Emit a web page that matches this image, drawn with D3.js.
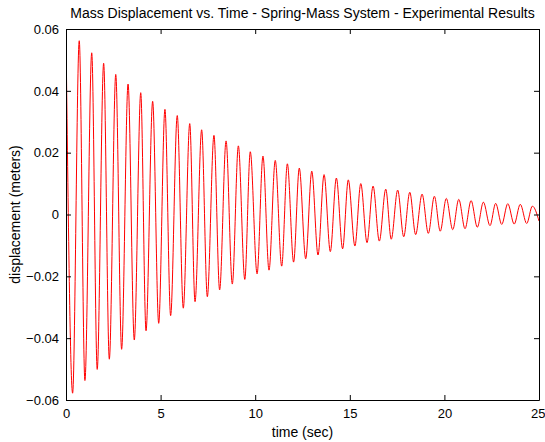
<!DOCTYPE html>
<html>
<head>
<meta charset="utf-8">
<script src="https://cdn.jsdelivr.net/npm/d3@7"></script>
<style>
  body { margin: 0; background: #fff; }
  text { font-family: "Liberation Sans", Arial, sans-serif; fill: #000; }
</style>
</head>
<body>
<div id="chart"></div>
<script>
// peaks and troughs (time in sec, displacement in m)
var startTime = 0, startDisp = 0.058;
var peakTimes = [0.70, 1.36, 1.99, 2.63, 3.28, 3.95, 4.58, 5.23, 5.88, 6.54, 7.17, 7.82,
  8.46, 9.11, 9.74, 10.41, 11.06, 11.70, 12.33, 12.99, 13.64, 14.29, 14.92, 15.58, 16.23,
  16.90, 17.53, 18.17, 18.82, 19.47, 20.10, 20.76, 21.41, 22.06, 22.71, 23.35, 24.01, 24.65];
var peakDisp = [0.0562, 0.0523, 0.0489, 0.0453, 0.0422, 0.0394, 0.0366, 0.0340, 0.0320, 0.0294, 0.0274, 0.0256,
  0.0238, 0.0222, 0.0203, 0.0189, 0.0175, 0.0164, 0.0150, 0.0140, 0.0129, 0.0118, 0.0112, 0.0100, 0.0092,
  0.0082, 0.0079, 0.0072, 0.0066, 0.0059, 0.0052, 0.0049, 0.0045, 0.0040, 0.0036, 0.0035, 0.0033, 0.0027];
var troughTimes = [0.35, 1.00, 1.65, 2.29, 2.94, 3.61, 4.23, 4.90, 5.53, 6.20, 6.82, 7.47, 8.12,
  8.79, 9.45, 10.10, 10.73, 11.40, 12.03, 12.67, 13.32, 13.97, 14.62, 15.27, 15.91, 16.56,
  17.19, 17.85, 18.48, 19.15, 19.78, 20.44, 21.09, 21.74, 22.41, 23.03, 23.69, 24.35];
var troughDisp = [-0.0578, -0.0537, -0.0501, -0.0468, -0.0436, -0.0406, -0.0376, -0.0352, -0.0327, -0.0303, -0.0282, -0.0266, -0.0244,
  -0.0225, -0.0210, -0.0192, -0.0180, -0.0167, -0.0154, -0.0143, -0.0131, -0.0120, -0.0111, -0.0102, -0.0091, -0.0086,
  -0.0080, -0.0072, -0.0065, -0.0061, -0.0054, -0.0049, -0.0046, -0.0041, -0.0036, -0.0032, -0.0031, -0.0029];
var endTime = 25, endDisp = -0.0021;

var xTicks = [0, 5, 10, 15, 20, 25];
var yTicks = [-0.06, -0.04, -0.02, 0, 0.02, 0.04, 0.06];

var w = 545, h = 442,
    padLeft = 66, padRight = 539, padTop = 29, padBottom = 400;

// put the extrema in time order
var data = [{t: startTime, y: startDisp}];
for (var i = 0; i < troughTimes.length; i++) {
  data.push({t: troughTimes[i], y: troughDisp[i]});
  data.push({t: peakTimes[i], y: peakDisp[i]});
}
data.push({t: endTime, y: endDisp});

var xScale = d3.scaleLinear().domain([0, 25]).range([padLeft, padRight]);
var yScale = d3.scaleLinear().domain([-0.06, 0.06]).range([padBottom, padTop]);

var svg = d3.select("#chart").append("svg")
    .attr("width", w)
    .attr("height", h);

svg.append("rect").attr("width", w).attr("height", h).attr("fill", "#fff");

svg.append("clipPath").attr("id", "clip")
  .append("rect")
    .attr("x", padLeft).attr("y", padTop)
    .attr("width", padRight - padLeft).attr("height", padBottom - padTop);

var line = d3.line()
    .x(function (d) { return xScale(d.t); })
    .y(function (d) { return yScale(d.y); })
    .curve(d3.curveMonotoneX);

svg.append("path")
    .datum(data)
    .attr("clip-path", "url(#clip)")
    .attr("d", line)
    .attr("fill", "none")
    .attr("stroke", "#ff0000")
    .attr("stroke-width", 1);

// axes, ticks pointing inward (matlab style)
var xAxis = d3.axisBottom(xScale).tickValues(xTicks).tickSizeInner(-5).tickSizeOuter(0).tickPadding(9)
    .tickFormat(d3.format("d"));
var yAxis = d3.axisLeft(yScale).tickValues(yTicks).tickSizeInner(-5).tickSizeOuter(0).tickPadding(7)
    .tickFormat(function (d) { return d === 0 ? "0" : d3.format(".2f")(d); });

var gx = svg.append("g").attr("transform", "translate(0," + padBottom + ")").call(xAxis);
var gy = svg.append("g").attr("transform", "translate(" + padLeft + ",0)").call(yAxis);
var gx2 = svg.append("g").attr("transform", "translate(0," + padTop + ")")
    .call(d3.axisTop(xScale).tickValues(xTicks).tickSizeInner(-5).tickSizeOuter(0).tickFormat(""));
var gy2 = svg.append("g").attr("transform", "translate(" + padRight + ",0)")
    .call(d3.axisRight(yScale).tickValues(yTicks).tickSizeInner(-5).tickSizeOuter(0).tickFormat(""));

[gx, gy, gx2, gy2].forEach(function (g) {
  g.selectAll("path.domain").attr("stroke", "#000");
  g.selectAll(".tick line").attr("stroke", "#000");
  g.selectAll(".tick text")
    .attr("font-family", "Liberation Sans, Arial, sans-serif")
    .attr("font-size", "13px")
    .attr("fill", "#000");
});

// last x label sits at the window edge, keep it inside
gx.selectAll(".tick text")
    .filter(function (d) { return d === 25; })
    .attr("text-anchor", "end")
    .attr("dx", 6);

svg.append("text")
    .attr("x", (padLeft + padRight) / 2)
    .attr("y", 18)
    .attr("text-anchor", "middle")
    .attr("font-size", "14px")
    .text("Mass Displacement vs. Time - Spring-Mass System - Experimental Results");

svg.append("text")
    .attr("x", (padLeft + padRight) / 2)
    .attr("y", 437)
    .attr("text-anchor", "middle")
    .attr("font-size", "14px")
    .text("time (sec)");

svg.append("text")
    .attr("transform", "translate(20," + (padTop + padBottom) / 2 + ") rotate(-90)")
    .attr("text-anchor", "middle")
    .attr("font-size", "14px")
    .text("displacement (meters)");
</script>
</body>
</html>
